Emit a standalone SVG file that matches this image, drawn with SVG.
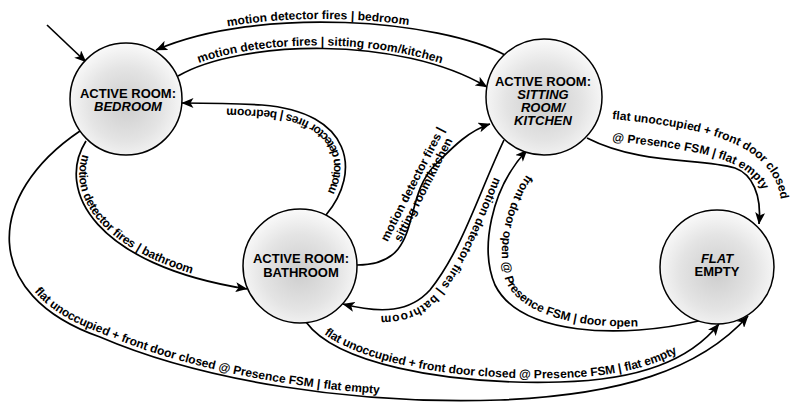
<svg xmlns="http://www.w3.org/2000/svg" width="790" height="406" viewBox="0 0 790 406">
  <defs>
    <radialGradient id="ball" cx="50%" cy="55%" r="55%">
      <stop offset="0" stop-color="#cdcdcd"/>
      <stop offset="0.6" stop-color="#e4e4e4"/>
      <stop offset="1" stop-color="#fafafa"/>
    </radialGradient>
    <marker id="arrow" viewBox="0 0 12 10" refX="11.5" refY="5" markerWidth="12" markerHeight="10" markerUnits="userSpaceOnUse" orient="auto">
      <path d="M0,0 L12,5 L0,10 L3,5 z" fill="#000"/>
    </marker>
    <!-- baselines for labels that run against the edge direction -->
    <path id="t-sr-bed" d="M 156 50 C 260 5, 440 20, 505 55"/>
    <path id="t-door" d="M 534 165 C 504 200, 496 250, 506 282 C 526 325, 615 335, 700 320"/>
    <path id="t-empty1" d="M 612 119 C 700 128, 772 140, 781 200"/>
    <path id="t-empty2" d="M 612 141 C 690 150, 755 155, 766 200"/>
    <style>
      .state { fill: url(#ball); stroke: #000; stroke-width: 1.5; }
      .name { font-family: "Liberation Sans", Arial, sans-serif; font-size: 13px; font-weight: bold; text-anchor: middle; fill: #000; }
      .it { font-style: italic; }
      .edge { fill: none; stroke: #000; stroke-width: 1.7; marker-end: url(#arrow); }
      .lbl { font-family: "Liberation Sans", Arial, sans-serif; font-size: 12px; font-weight: bold; fill: #000; }
    </style>
  </defs>

  <g id="connectors">
    <!-- initial transition -->
    <path class="edge" d="M 47 25 L 86 62"/>
    <!-- sitting room -> bedroom -->
    <path class="edge" id="e-sr-bed" d="M 505 55 C 440 20, 260 5, 156 50"/>
    <text class="lbl" dy="-3"><textPath href="#t-sr-bed" startOffset="75">motion detector fires | bedroom</textPath></text>
    <!-- bedroom -> sitting room -->
    <path class="edge" id="e-bed-sr" d="M 178 76 C 240 40, 400 35, 487 87"/>
    <text class="lbl" dy="-3"><textPath href="#e-bed-sr" startOffset="24">motion detector fires | sitting room/kitchen</textPath></text>
    <!-- bathroom -> bedroom -->
    <path class="edge" id="e-bath-bed" d="M 326 215 C 362 172, 352 112, 262 105 C 230 103, 208 103, 182 103"/>
    <text class="lbl" dy="-5"><textPath href="#e-bath-bed" startOffset="22">motion detector fires | bedroom</textPath></text>
    <!-- bedroom -> bathroom -->
    <path class="edge" id="e-bed-bath" d="M 86 141 C 55 190, 95 265, 247 289"/>
    <text class="lbl" dy="-3"><textPath href="#e-bed-bath" startOffset="14">motion detector fires | bathroom</textPath></text>
    <!-- bathroom -> sitting room -->
    <path class="edge" d="M 357 265 C 425 265, 400 200, 435 165 C 452 148, 468 131, 490 124"/>
    <text class="lbl" text-anchor="middle" transform="translate(416 186) rotate(-63)"><tspan x="0" y="0">motion detector fires |</tspan><tspan x="0" y="12">sitting room/kitchen</tspan></text>
    <!-- sitting room -> bathroom -->
    <path class="edge" id="e-sr-bath" d="M 504 140 C 478 195, 462 250, 430 290 C 410 312, 382 314, 343 304"/>
    <text class="lbl" dy="-6"><textPath href="#e-sr-bath" startOffset="38">motion detector fires | bathroom</textPath></text>
    <!-- flat empty -> sitting room -->
    <path class="edge" d="M 703 320 C 620 340, 520 335, 495 285 C 480 250, 490 190, 527 150"/>
    <text class="lbl"><textPath href="#t-door" startOffset="12">front door open @ Presence FSM | door open</textPath></text>
    <!-- sitting room -> flat empty -->
    <path class="edge" d="M 587 138 C 640 165, 700 158, 735 168 C 752 174, 762 195, 759 224"/>
    <text class="lbl"><textPath href="#t-empty1">flat unoccupied + front door closed</textPath></text>
    <text class="lbl"><textPath href="#t-empty2">@ Presence FSM | flat empty</textPath></text>
    <!-- bathroom -> flat empty -->
    <path class="edge" id="e-bath-flat" d="M 306 322 C 335 362, 440 385, 560 382 C 640 380, 690 360, 719 324"/>
    <text class="lbl" dy="-4"><textPath href="#e-bath-flat" startOffset="22">flat unoccupied + front door closed @ Presence FSM | flat empty</textPath></text>
    <!-- bedroom -> flat empty -->
    <path class="edge" id="e-bed-flat" d="M 80 131 C -15 195, -20 295, 100 337 C 200 380, 350 405, 500 400 C 620 395, 700 370, 748 316"/>
    <text class="lbl" dy="-4"><textPath href="#e-bed-flat" startOffset="195">flat unoccupied + front door closed @ Presence FSM | flat empty</textPath></text>
  </g>

  <g id="bedroom">
    <circle class="state" cx="126" cy="99" r="56"/>
    <text class="name" x="128" y="98">ACTIVE ROOM:</text>
    <text class="name it" x="128" y="111">BEDROOM</text>
  </g>

  <g id="sitting-room">
    <circle class="state" cx="544" cy="97" r="58"/>
    <text class="name" x="543" y="86">ACTIVE ROOM:</text>
    <text class="name it" x="543" y="99">SITTING</text>
    <text class="name it" x="543" y="112">ROOM/</text>
    <text class="name it" x="543" y="125">KITCHEN</text>
  </g>

  <g id="bathroom">
    <circle class="state" cx="300" cy="266" r="57"/>
    <text class="name" x="301" y="263">ACTIVE ROOM:</text>
    <text class="name" x="301" y="277">BATHROOM</text>
  </g>

  <g id="flat-empty">
    <circle class="state" cx="717" cy="267" r="57"/>
    <text class="name it" x="717" y="263">FLAT</text>
    <text class="name" x="717" y="276">EMPTY</text>
  </g>
</svg>
